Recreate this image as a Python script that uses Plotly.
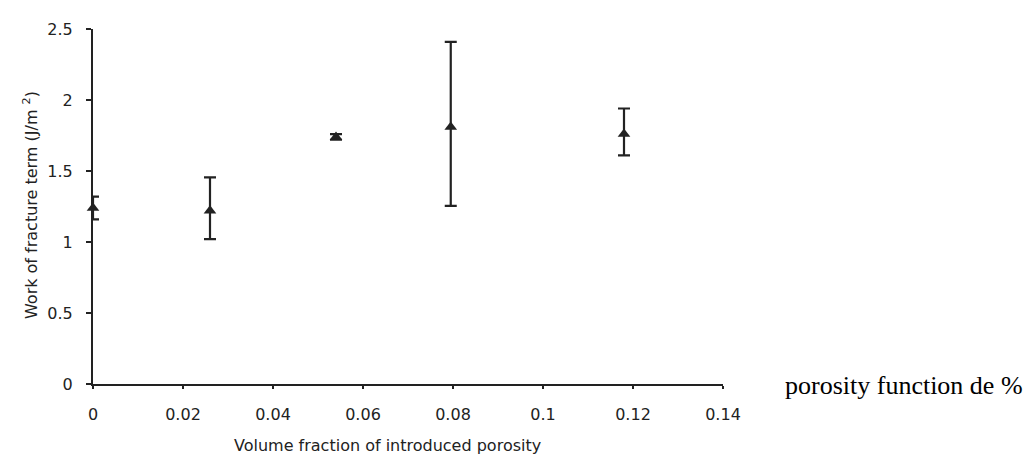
import plotly.graph_objects as go

porosity = [0.0, 0.026, 0.054, 0.0795, 0.118]
work = [1.24, 1.22, 1.74, 1.81, 1.76]
err_plus = [0.08, 0.235, 0.02, 0.60, 0.18]
err_minus = [0.08, 0.20, 0.02, 0.555, 0.15]

x_ticks = [0, 0.02, 0.04, 0.06, 0.08, 0.1, 0.12, 0.14]
x_tick_labels = ["0", "0.02", "0.04", "0.06", "0.08", "0.1", "0.12", "0.14"]
y_ticks = [0, 0.5, 1, 1.5, 2, 2.5]
y_tick_labels = ["0", "0.5", "1", "1.5", "2", "2.5"]

font_fam = "DejaVu Sans, Verdana, sans-serif"
ink = "#222222"

# plot area in page pixels (page has an 8px body margin)
PL, PR, PT, PB = 93, 723, 21, 384
W, H = 1026, 458
OFF = 8

fig = go.Figure()
fig.add_trace(go.Scatter(
    x=porosity, y=work, mode="markers",
    marker=dict(symbol="triangle-up", size=11, color=ink),
    error_y=dict(type="data", symmetric=False, array=err_plus, arrayminus=err_minus,
                 color=ink, thickness=2.2, width=6),
    cliponaxis=False, showlegend=False,
))

def px(xp):
    return (xp - PL) / (PR - PL)

def py(yp):
    return (PB - yp) / (PB - PT)

fig.update_layout(
    width=W, height=H,
    margin=dict(l=PL - OFF, r=W - (PR - OFF), t=PT - OFF, b=H - (PB - OFF)),
    paper_bgcolor="white", plot_bgcolor="white",
    font=dict(family=font_fam, size=16, color=ink),
    xaxis=dict(range=[0, 0.14], tickvals=x_ticks, ticktext=x_tick_labels,
               showgrid=False, zeroline=False, showline=True, linecolor=ink, linewidth=2,
               ticks="outside", ticklen=3, tickcolor=ink, tickwidth=1.5,
               ticklabelstandoff=12,
               tickfont=dict(size=16, family=font_fam, color=ink)),
    yaxis=dict(range=[0, 2.5], tickvals=y_ticks, ticktext=y_tick_labels,
               showgrid=False, zeroline=False, showline=True, linecolor=ink, linewidth=2,
               ticks="outside", ticklen=5, tickcolor=ink, tickwidth=1.5,
               ticklabelstandoff=10,
               tickfont=dict(size=16, family=font_fam, color=ink)),
    annotations=[
        dict(text="Volume fraction of introduced porosity", xref="paper", yref="paper",
             x=px(387), y=py(447), xanchor="center", yanchor="middle",
             showarrow=False, font=dict(size=16, family=font_fam, color=ink)),
        dict(text="Work of fracture term (J/m <sup>2</sup>)", xref="paper", yref="paper",
             x=px(30), y=py(201), xanchor="center", yanchor="middle",
             textangle=-90, showarrow=False, font=dict(size=16, family=font_fam, color=ink)),
        dict(text="porosity function de %", xref="paper", yref="paper",
             x=px(783), y=py(386), xanchor="left", yanchor="middle",
             showarrow=False, font=dict(size=26, family="Liberation Serif, Times New Roman, serif", color="black")),
    ],
)

fig.write_html("out.html")
